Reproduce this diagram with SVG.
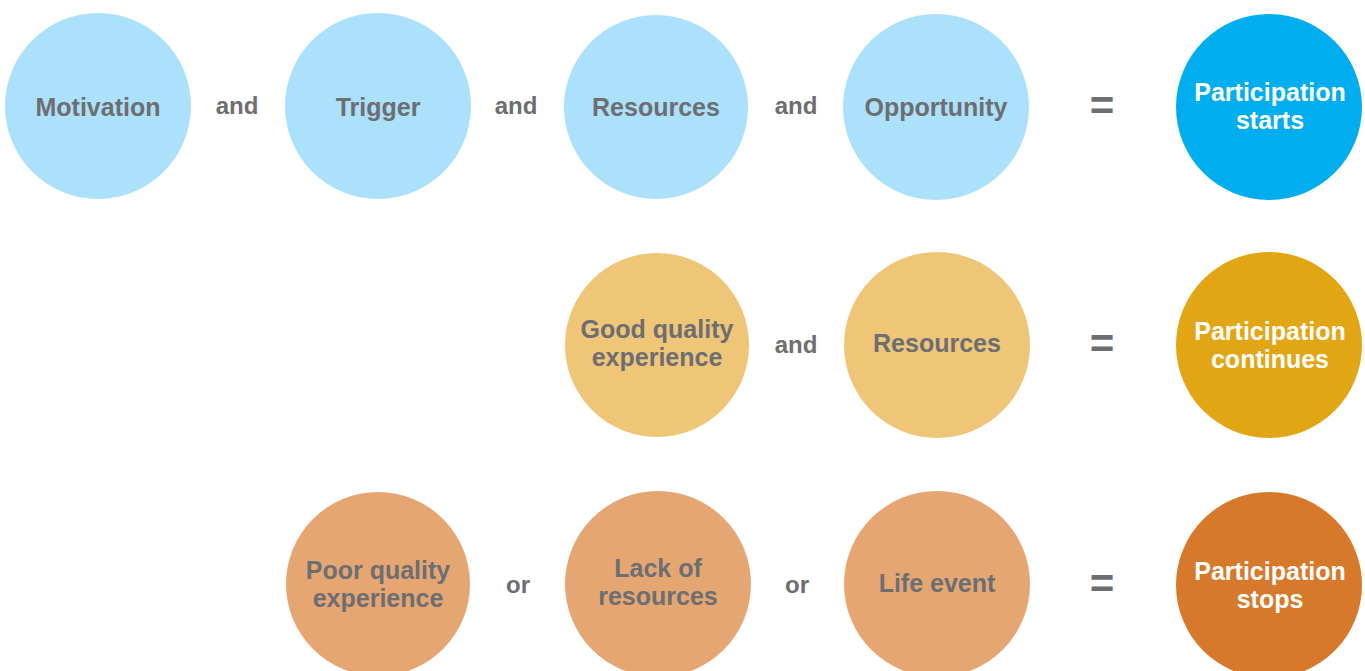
<svg xmlns="http://www.w3.org/2000/svg" width="1365" height="671" viewBox="0 0 1365 671">
<style>
text{font-family:"Liberation Sans",Arial,sans-serif;font-weight:bold;font-size:25px;text-anchor:middle}
.g{fill:#6d6e71}
.w{fill:#ffffff}
.op{fill:#6d6e71;font-size:24px}
.eq{fill:#6d6e71;font-size:42px}
.b1{fill:#abe1fa}.b2{fill:#00aeef}
.y1{fill:#efc577}.y2{fill:#e2a614}
.o1{fill:#e5a672}.o2{fill:#d6792b}
</style>
<rect width="1365" height="671" fill="#ffffff"/>
<g id="motivation"><circle class="b1" cx="98" cy="106" r="93"/><text class="g" x="98" y="116">Motivation</text></g>
<g id="trigger"><circle class="b1" cx="378" cy="106" r="93"/><text class="g" x="378" y="116">Trigger</text></g>
<g id="resources1"><circle class="b1" cx="656" cy="107" r="92"/><text class="g" x="656" y="116">Resources</text></g>
<g id="opportunity"><circle class="b1" cx="936" cy="107" r="93"/><text class="g" x="936" y="116">Opportunity</text></g>
<g id="starts"><circle class="b2" cx="1269" cy="107" r="93"/><text class="w" x="1270" y="101">Participation</text><text class="w" x="1270" y="129">starts</text></g>
<g id="goodquality"><circle class="y1" cx="657" cy="345" r="92"/><text class="g" x="657" y="338">Good quality</text><text class="g" x="657" y="366">experience</text></g>
<g id="resources2"><circle class="y1" cx="937" cy="345" r="93"/><text class="g" x="937" y="352">Resources</text></g>
<g id="continues"><circle class="y2" cx="1269" cy="345" r="93"/><text class="w" x="1270" y="340">Participation</text><text class="w" x="1270" y="368">continues</text></g>
<g id="poorquality"><circle class="o1" cx="378" cy="584" r="92"/><text class="g" x="378" y="579">Poor quality</text><text class="g" x="378" y="607">experience</text></g>
<g id="lackresources"><circle class="o1" cx="658" cy="584" r="93"/><text class="g" x="658" y="577">Lack of</text><text class="g" x="658" y="605">resources</text></g>
<g id="lifeevent"><circle class="o1" cx="937" cy="584" r="93"/><text class="g" x="937" y="592">Life event</text></g>
<g id="stops"><circle class="o2" cx="1269" cy="585" r="93"/><text class="w" x="1270" y="580">Participation</text><text class="w" x="1270" y="608">stops</text></g>
<g id="connectors">
<text class="op" x="237" y="114">and</text>
<text class="op" x="516" y="114">and</text>
<text class="op" x="796" y="114">and</text>
<text class="eq" x="1102" y="120">=</text>
<text class="op" x="796" y="353">and</text>
<text class="eq" x="1102" y="358">=</text>
<text class="op" x="518" y="593">or</text>
<text class="op" x="797" y="593">or</text>
<text class="eq" x="1102" y="598">=</text>
</g>
</svg>
